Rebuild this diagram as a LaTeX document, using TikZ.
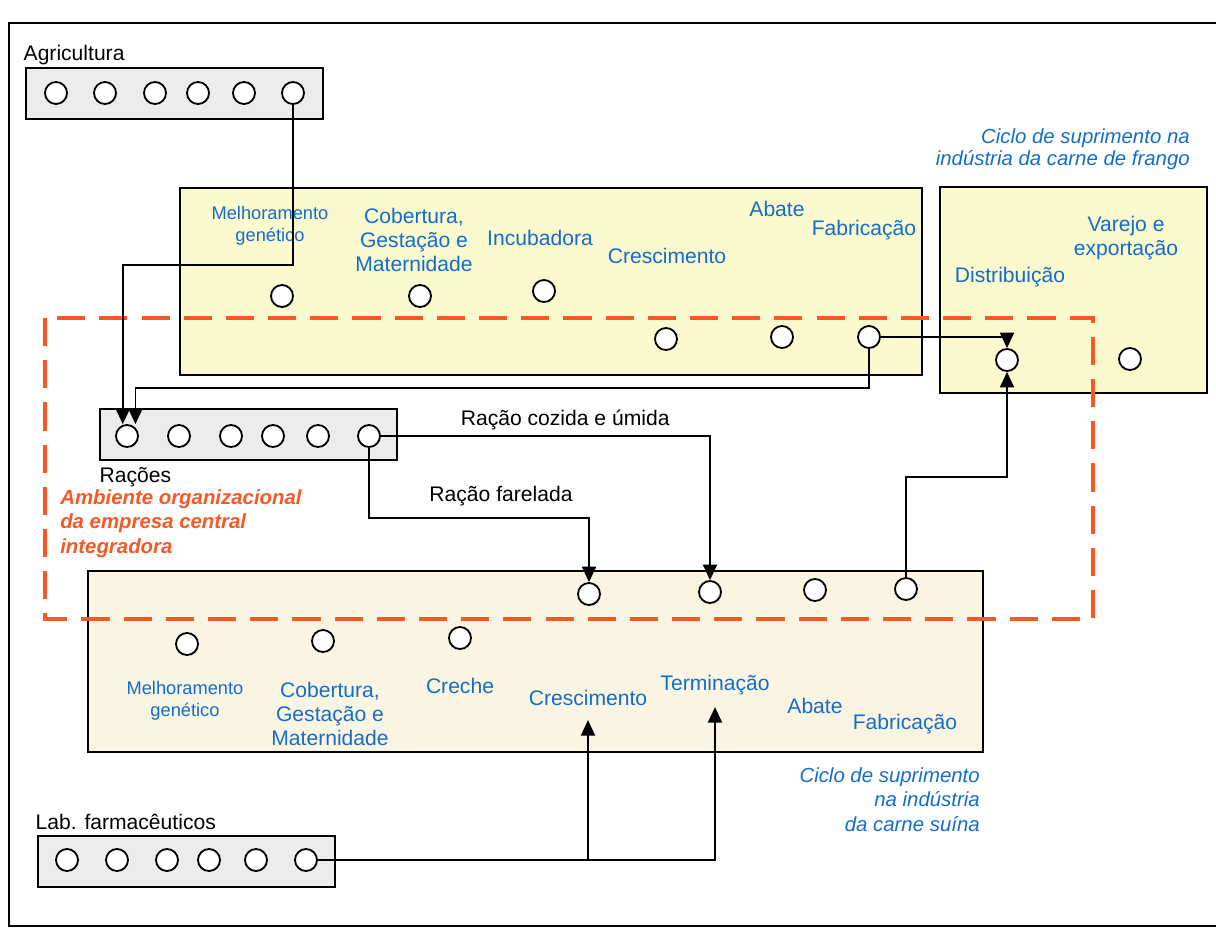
\documentclass[tikz,border=0pt]{standalone}
\usepackage{fontspec}
\setmainfont{Liberation Sans}
\usepackage{tikz}
\usetikzlibrary{arrows.meta, positioning, calc}

\definecolor{frango}{RGB}{251,249,206}
\definecolor{suina}{RGB}{249,245,226}
\definecolor{insumo}{RGB}{236,236,236}
\definecolor{etapa}{RGB}{20,110,200}
\definecolor{laranja}{RGB}{247,88,36}

\begin{document}
\begin{tikzpicture}[x=0.025cm, y=-0.025cm,
    panel/.style={draw, line width=1.4pt},
    dot/.style={circle, draw, fill=white, line width=1.3pt, minimum size=0.55cm, inner sep=0pt},
    stage/.style={text=etapa, align=center, font=\fontsize{15}{17}\selectfont, inner sep=1pt},
    small/.style={stage, font=\fontsize{13}{15.6}\selectfont},
    note/.style={text=etapa, align=right, font=\itshape\fontsize{14.5}{17.4}\selectfont, inner sep=0pt},
    txt/.style={font=\fontsize{15}{18}\selectfont, inner sep=1pt},
    link/.style={line width=1.3pt},
    arr/.style={link, -{Triangle[length=11pt, width=10pt]}},
    zone/.style={draw=laranja, line width=2.8pt, dash pattern=on 20pt off 10pt}]
  \useasboundingbox (0,0) rectangle (1216,936);

  % outer frame
  \draw[line width=1.3pt] (1216,23) -- (9,23) -- (9,926) -- (1216,926);

  % chain blocks and suppliers
  \draw[panel, fill=frango] (180,188) rectangle (922,375);
  \draw[panel, fill=frango] (940,187) rectangle (1207,393);
  \draw[panel, fill=suina] (88,571) rectangle (983,752);
  \draw[panel, fill=insumo] (26,68) rectangle (323,119);
  \draw[panel, fill=insumo] (100,409) rectangle (397,460);
  \draw[panel, fill=insumo] (38,836) rectangle (335,887);

  % frango stages
  \node[small] (fmel) at (270,226) {Melhoramento\\genético};
  \node[stage] (fcob) at (414,240) {Cobertura,\\Gestação e\\Maternidade};
  \node[stage] (finc) at (540,238) {Incubadora};
  \node[stage] (fcre) at (667,256) {Crescimento};
  \node[stage] (faba) at (777,209) {Abate};
  \node[stage] (ffab) at (864,230) {Fabricação};
  \node[stage] (fdis) at (1010,277) {Distribuição};
  \node[stage] (fvar) at (1126,238) {Varejo e\\exportação};

  % suina stages
  \node[small] (smel) at (185,701) {Melhoramento\\genético};
  \node[stage] (scob) at (330,714) {Cobertura,\\Gestação e\\Maternidade};
  \node[stage] (sche) at (460,686) {Creche};
  \node[stage] (scre) at (588,698) {Crescimento};
  \node[stage] (ster) at (715,685) {Terminação};
  \node[stage] (saba) at (815,706) {Abate};
  \node[stage] (sfab) at (905,724) {Fabricação};

  % notes
  \node[note, anchor=east, font=\itshape\fontsize{14.5}{15.8}\selectfont] (nfrango) at (1190,149)
    {Ciclo de suprimento na\\indústria da carne de frango};
  \node[note, anchor=north east] (nsuina) at (980,767)
    {Ciclo de suprimento\\na indústria\\da carne suína};
  \node[txt, anchor=west] (agri) at (22,55) {Agricultura};
  \node[txt, anchor=west] (racoes) at (98,477) {Rações};
  \node[txt, anchor=west] (labs) at (34,822) {Lab. farmacêuticos};
  \node[text=laranja, align=left, anchor=north west, inner sep=0pt,
    font=\bfseries\itshape\fontsize{14.5}{17.6}\selectfont] (amb) at (60,489)
    {Ambiente organizacional\\da empresa central\\integradora};

  % integrator boundary
  \draw[zone] (45,318) rectangle (1093,619);

  % circles
  \foreach \x [count=\i] in {56,105,155,198,244,293}
    \node[dot] (agri\i) at (\x,93) {};
  \foreach \x [count=\i] in {127,179,231,273,318,369}
    \node[dot] (rac\i) at (\x,436) {};
  \foreach \x [count=\i] in {67,117,167,209,256,306}
    \node[dot] (lab\i) at (\x,860) {};
  \foreach \x/\y [count=\i] in {282/296, 420/296, 544/291, 666/339, 782/337, 869/337}
    \node[dot] (fr\i) at (\x,\y) {};
  \node[dot] (fd1) at (1007,360) {};
  \node[dot] (fd2) at (1130,359) {};
  \foreach \x/\y [count=\i] in {187/644, 323/641, 460/638, 589/594, 710/592, 815/590, 906/589}
    \node[dot] (su\i) at (\x,\y) {};

  % flows
  \draw[arr] (agri6.south) -- ++(0,160) -| ([xshift=-3pt]rac1.north);
  \draw[arr] (fr6.south) -- ++(0,39) -| ([xshift=6pt]rac1.north);
  \draw[arr] (fr6.east) -| (fd1.north);
  \draw[arr] (su7.north) -- ++(0,-100) -| (fd1.south);
  \draw[arr] (rac6.east) -| node[txt, pos=0.28, above=3pt] (cozida) {Ração cozida e úmida} (su5.north);
  \draw[arr] (rac6.south) -- ++(0,70) -| node[txt, pos=0.3, above=7pt] (farelada) {Ração farelada} (su4.north);
  \draw[arr] (lab6.east) -| ([yshift=-7.5pt]ster.south);
  \draw[arr] (lab6.east -| scre.south) -- ([yshift=-9pt]scre.south);
\end{tikzpicture}
\end{document}
